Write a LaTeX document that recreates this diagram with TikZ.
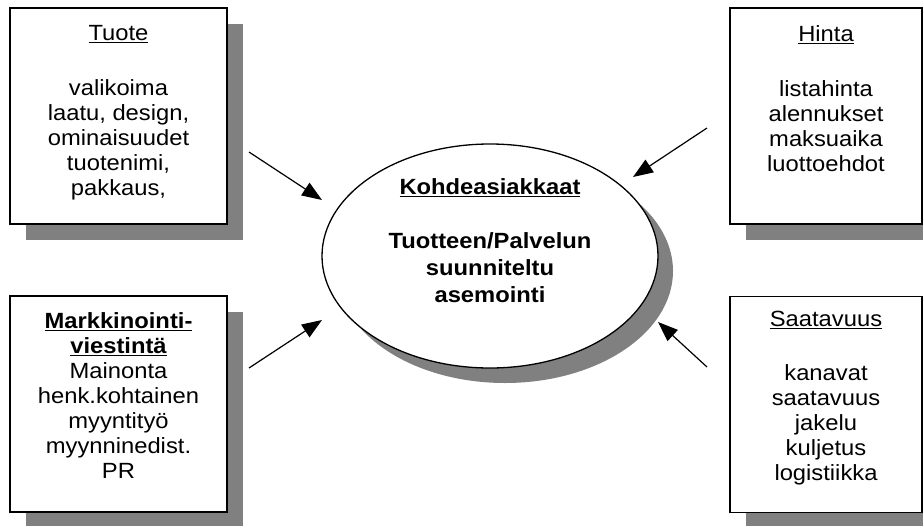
\documentclass[tikz,border=0pt]{standalone}
\usepackage{fontspec}
\setmainfont{Liberation Sans}[FakeStretch=1.08]
\usetikzlibrary{arrows.meta,shadows,shapes.geometric}

\begin{document}
\begin{tikzpicture}[x=1pt,y=-1pt,
  laatikko/.style={draw, line width=1.6pt, fill=white, inner sep=0pt,
    minimum width=#1, minimum height=216pt,
    drop shadow={shadow xshift=16pt, shadow yshift=-16pt, fill=black!50, opacity=1}},
  teksti/.style={anchor=north, align=center, inner sep=0pt,
    font=\fontsize{22}{25}\selectfont},
  nuoli/.style={line width=1.2pt, -{Triangle[length=20pt,width=15pt]}}]

\useasboundingbox (0,0) rectangle (923,525);

\node[laatikko=217pt] (tuote) at (118.5,116) {};
\node[laatikko=192pt] (hinta) at (826,116) {};
\node[laatikko=217pt] (viestinta) at (118.5,404) {};
\node[laatikko=192pt] (saatavuus) at (826,404.5) {};

\node[draw, ellipse, line width=1.3pt, fill=white, inner sep=0pt,
  minimum width=336pt, minimum height=224pt,
  drop shadow={shadow xshift=15pt, shadow yshift=-15pt, fill=black!50, opacity=1}]
  (kohde) at (490,256) {};

\node[teksti] (tuoteteksti) at ([yshift=-18pt]tuote.north)
  {\underline{Tuote}\\[30pt]valikoima\\laatu, design,\\ominaisuudet\\tuotenimi,\\pakkaus,};
\node[teksti] (hintateksti) at ([yshift=-18pt]hinta.north)
  {\underline{Hinta}\\[30pt]listahinta\\alennukset\\maksuaika\\luottoehdot};
\node[teksti] (viestintateksti) at ([yshift=-17pt]viestinta.north)
  {\textbf{\underline{Markkinointi-}}\\\textbf{\underline{viestintä}}\\Mainonta\\henk.kohtainen\\myyntityö\\myynninedist.\\PR};
\node[teksti] (saatavuusteksti) at ([yshift=-15pt]saatavuus.north)
  {\underline{Saatavuus}\\[29pt]kanavat\\saatavuus\\jakelu\\kuljetus\\logistiikka};
\node[teksti, font=\bfseries\fontsize{22}{27}\selectfont] (kohdeteksti) at (490,178)
  {\underline{Kohdeasiakkaat}\\[27pt]Tuotteen/Palvelun\\suunniteltu\\asemointi};

% nuolet kohti keskustaa
\coordinate (a1) at (249,152); \coordinate (b1) at (322,200);
\coordinate (a2) at (707,128); \coordinate (b2) at (633,177);
\coordinate (a3) at (249,368); \coordinate (b3) at (322,320);
\coordinate (a4) at (707,367); \coordinate (b4) at (658,322);

\draw[nuoli] (a1) -- (b1);
\draw[nuoli] (a2) -- (b2);
\draw[nuoli] (a3) -- (b3);
\draw[nuoli] (a4) -- (b4);

\end{tikzpicture}
\end{document}
